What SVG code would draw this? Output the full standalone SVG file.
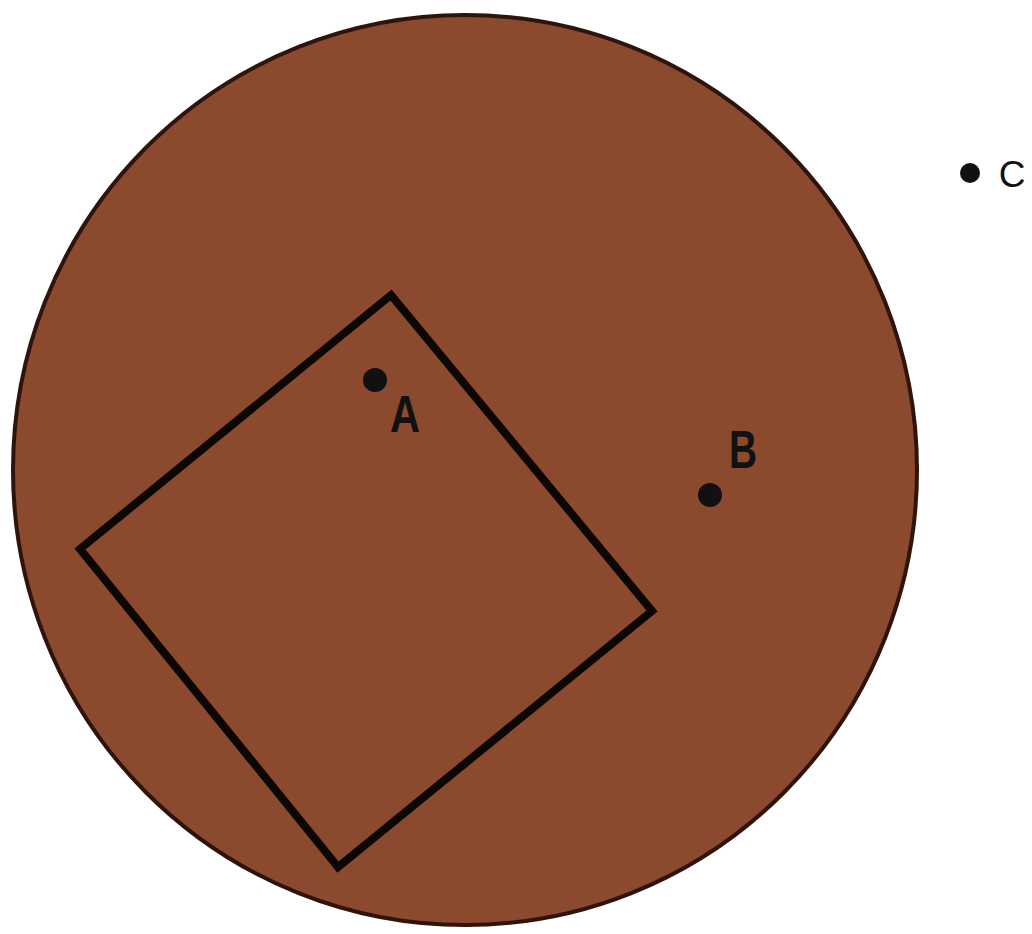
<svg xmlns="http://www.w3.org/2000/svg" width="1032" height="934" viewBox="0 0 1032 934">
<style>
.dot{fill:#111}
.lbl{font-family:"Liberation Sans",Arial,sans-serif;fill:#111}
</style>
<rect width="1032" height="934" fill="#fff"/>
<g id="disc">
<ellipse cx="465" cy="470" rx="452" ry="455" fill="#8b4a2d" stroke="#2e140c" stroke-width="4"/>
</g>
<g id="square">
<polygon points="391,295 652,611 338,867 80,549" fill="none" stroke="#0c0604" stroke-width="8" stroke-linejoin="miter"/>
</g>
<g id="pointA">
<circle class="dot" cx="375" cy="380" r="12"/>
<text class="lbl" x="405" y="432" font-size="52" font-weight="bold" text-anchor="middle" transform="translate(405 432) scale(0.8 1) translate(-405 -432)">A</text>
</g>
<g id="pointB">
<circle class="dot" cx="710" cy="495" r="12"/>
<text class="lbl" x="743" y="468" font-size="54" font-weight="bold" text-anchor="middle" transform="translate(743 468) scale(0.72 1) translate(-743 -468)">B</text>
</g>
<g id="pointC">
<circle class="dot" cx="970" cy="173" r="10"/>
<text class="lbl" x="1012" y="187" font-size="37" text-anchor="middle">C</text>
</g>
</svg>
